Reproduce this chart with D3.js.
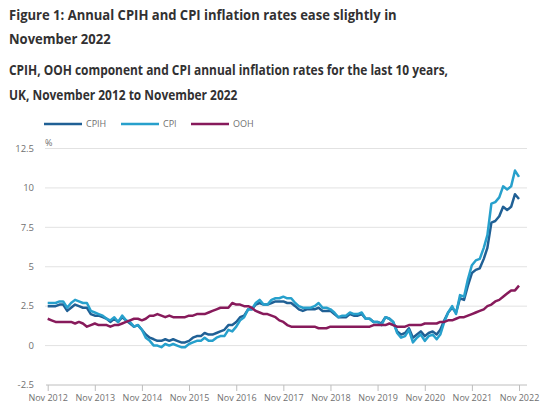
<!DOCTYPE html>
<html>
<head>
<meta charset="utf-8">
<script src="https://cdn.jsdelivr.net/npm/d3@7"></script>
<style>
  body { margin: 0; background: #fff; }
  svg { font-family: "Open Sans", sans-serif; }
</style>
</head>
<body>
<svg id="chart" width="550" height="413"></svg>
<script>
// monthly annual rates, Nov 2012 .. Nov 2022 (%)
const cpih = [
  2.5, 2.5,
  2.5, 2.6, 2.6, 2.2, 2.4, 2.6, 2.5, 2.4, 2.4, 2.0, 1.9, 1.9,
  1.8, 1.7, 1.5, 1.7, 1.5, 1.8, 1.6, 1.4, 1.2, 1.3, 1.0, 0.7,
  0.5, 0.4, 0.3, 0.3, 0.4, 0.3, 0.4, 0.3, 0.2, 0.2, 0.3, 0.5,
  0.6, 0.6, 0.8, 0.7, 0.7, 0.8, 0.9, 1.0, 1.3, 1.3, 1.5, 1.8,
  1.9, 2.3, 2.3, 2.6, 2.7, 2.6, 2.6, 2.7, 2.8, 2.8, 2.8, 2.7,
  2.7, 2.5, 2.3, 2.2, 2.3, 2.3, 2.3, 2.4, 2.2, 2.2, 2.2, 2.0,
  1.8, 1.8, 1.8, 2.0, 1.9, 1.9, 2.0, 1.7, 1.7, 1.5, 1.5, 1.4,
  1.8, 1.7, 1.5, 0.9, 0.7, 0.8, 1.1, 0.5, 0.7, 0.9, 0.6, 0.8,
  0.9, 0.7, 1.0, 1.6, 2.1, 2.4, 2.1, 3.0, 2.9, 3.8, 4.6, 4.8,
  4.9, 5.5, 6.2, 7.8, 7.9, 8.2, 8.8, 8.6, 8.8, 9.6, 9.3
]
const cpi = [
  2.7, 2.7,
  2.7, 2.8, 2.8, 2.4, 2.7, 2.9, 2.8, 2.7, 2.7, 2.2, 2.1, 2.0,
  1.9, 1.7, 1.6, 1.8, 1.5, 1.9, 1.6, 1.5, 1.2, 1.3, 1.0, 0.5,
  0.3, 0.0, 0.0, -0.1, 0.1, 0.0, 0.1, 0.0, -0.1, -0.1, 0.1, 0.2,
  0.3, 0.3, 0.5, 0.3, 0.3, 0.5, 0.6, 0.6, 1.0, 0.9, 1.2, 1.6,
  1.8, 2.3, 2.3, 2.7, 2.9, 2.6, 2.6, 2.9, 3.0, 3.0, 3.1, 3.0,
  3.0, 2.7, 2.5, 2.4, 2.4, 2.4, 2.5, 2.7, 2.4, 2.4, 2.3, 2.1,
  1.8, 1.9, 1.9, 2.1, 2.0, 2.0, 2.1, 1.7, 1.7, 1.5, 1.5, 1.3,
  1.8, 1.7, 1.5, 0.8, 0.5, 0.6, 1.0, 0.2, 0.5, 0.7, 0.3, 0.6,
  0.7, 0.4, 0.7, 1.5, 2.1, 2.5, 2.0, 3.2, 3.1, 4.2, 5.1, 5.4,
  5.5, 6.2, 7.0, 9.0, 9.1, 9.4, 10.1, 9.9, 10.1, 11.1, 10.7
]
const ooh = [
  1.7, 1.6,
  1.5, 1.5, 1.5, 1.5, 1.5, 1.4, 1.5, 1.4, 1.2, 1.3, 1.4, 1.3,
  1.3, 1.3, 1.2, 1.3, 1.3, 1.4, 1.5, 1.6, 1.7, 1.7, 1.6, 1.7,
  1.9, 1.9, 2.0, 1.9, 1.8, 1.9, 1.8, 1.8, 1.8, 1.8, 1.9, 1.9,
  2.0, 2.0, 2.0, 2.1, 2.2, 2.3, 2.4, 2.4, 2.4, 2.7, 2.6, 2.6,
  2.5, 2.5, 2.4, 2.2, 2.1, 2.0, 2.0, 1.9, 1.8, 1.6, 1.5, 1.3,
  1.2, 1.2, 1.2, 1.2, 1.2, 1.2, 1.2, 1.1, 1.1, 1.1, 1.2, 1.2,
  1.2, 1.2, 1.2, 1.2, 1.2, 1.2, 1.2, 1.2, 1.2, 1.3, 1.3, 1.3,
  1.3, 1.4, 1.3, 1.2, 1.2, 1.2, 1.3, 1.3, 1.3, 1.3, 1.4, 1.4,
  1.4, 1.4, 1.5, 1.5, 1.6, 1.6, 1.7, 1.8, 1.8, 1.9, 2.0, 2.1,
  2.2, 2.3, 2.5, 2.6, 2.8, 2.9, 3.1, 3.3, 3.5, 3.5, 3.8
]
const tickYears = [2012, 2013, 2014, 2015, 2016, 2017, 2018, 2019, 2020, 2021, 2022]
const yTicks = [-2.5, 0, 2.5, 5, 7.5, 10, 12.5]
const seriesNames = ['CPIH', 'CPI', 'OOH']
const colours = ['#206095', '#27a0cc', '#871a5b']

const months = d3.timeMonth.range(new Date(2012, 10, 1), new Date(2022, 11, 1))
const series = [cpih, cpi, ooh]

const svg = d3.select('#chart')

// 标题 (字形略窄，横向压缩)
const title = svg.append('g').attr('fill', '#323132').attr('font-weight', 700)
const titleLines = [
  ['Figure 1: Annual CPIH and CPI inflation rates ease slightly in', 20, 14.5, 0.9],
  ['November 2022', 44, 14.5, 0.9],
  ['CPIH, OOH component and CPI annual inflation rates for the last 10 years,', 75, 13.5, 0.885],
  ['UK, November 2012 to November 2022', 100, 13.5, 0.885]
]
title.selectAll('text')
  .data(titleLines)
  .join('text')
  .attr('transform', d => 'translate(9,' + d[1] + ') scale(' + d[3] + ',1)')
  .attr('font-size', d => d[2])
  .text(d => d[0])

// 比例尺
const x = d3.scaleTime()
  .domain([months[0], months[months.length - 1]])
  .range([47.7, 519])
const y = d3.scaleLinear()
  .domain([-2.5, 12.5])
  .range([385, 148.5])

// 网格线
svg.append('g').selectAll('line')
  .data(yTicks.filter(d => d > -2.5))
  .join('line')
  .attr('x1', 45).attr('x2', 527)
  .attr('y1', d => y(d)).attr('y2', d => y(d))
  .attr('stroke', '#e2e2e2').attr('stroke-width', 1)

// y轴标签
svg.append('g').selectAll('text')
  .data(yTicks)
  .join('text')
  .attr('x', 34).attr('y', d => y(d)).attr('dy', '0.35em')
  .attr('text-anchor', 'end')
  .attr('font-size', 9.5).attr('fill', '#707070')
  .text(d => String(d))
svg.append('text').attr('x', 45).attr('y', 146)
  .attr('font-size', 9).attr('fill', '#707070').text('%')

// x轴
const xAxis = svg.append('g')
  .attr('transform', 'translate(0,' + y(-2.5) + ')')
  .call(d3.axisBottom(x)
    .tickValues(tickYears.map(yr => new Date(yr, 10, 1)))
    .tickFormat(d => 'Nov ' + d.getFullYear())
    .tickSize(6).tickPadding(4))
xAxis.select('.domain').remove()
xAxis.insert('line', ':first-child')
  .attr('x1', 46).attr('x2', 527)
  .attr('stroke', '#bebebe')
xAxis.selectAll('.tick line').attr('stroke', '#bebebe')
xAxis.selectAll('.tick text')
  .attr('font-family', '"Open Sans", sans-serif')
  .attr('font-size', 9).attr('fill', '#707070')

// 折线
const line = d3.line()
  .x((d, i) => x(months[i]))
  .y(d => y(d))
svg.append('g').selectAll('path')
  .data(series)
  .join('path')
  .attr('fill', 'none')
  .attr('stroke', (d, i) => colours[i])
  .attr('stroke-width', 2.5)
  .attr('stroke-linejoin', 'round')
  .attr('d', line)

// 图例
const legendX = [44, 121, 191]
const legend = svg.append('g').selectAll('g')
  .data(seriesNames)
  .join('g')
  .attr('transform', (d, i) => 'translate(' + legendX[i] + ',124)')
legend.append('line')
  .attr('x1', 0).attr('x2', 38)
  .attr('stroke', (d, i) => colours[i]).attr('stroke-width', 2.5)
legend.append('text')
  .attr('x', 42).attr('dy', '0.35em')
  .attr('font-size', 9).attr('fill', '#707070')
  .text(d => d)
</script>
</body>
</html>
